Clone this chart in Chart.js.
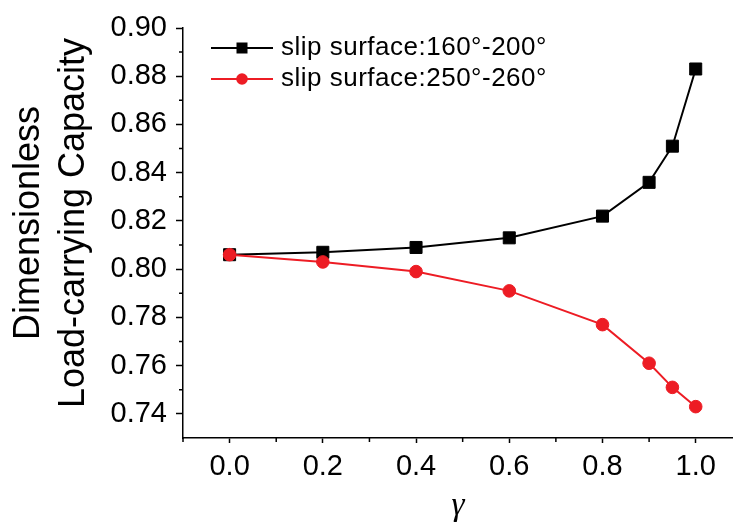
<!DOCTYPE html>
<html lang="en">
<head>
<meta charset="UTF-8" />
<title>Load-carrying Capacity</title>
<script src="https://cdn.jsdelivr.net/npm/chart.js@4.4.1/dist/chart.umd.min.js"></script>
<style>
  body { margin: 0; background: #fff; }
  #wrap { width: 733px; height: 522px; position: relative; }
</style>
</head>
<body>
<div id="wrap"><canvas id="myChart"></canvas></div>
<script>
// gamma on the x axis
const gammaValues = [0, 0.2, 0.4, 0.6, 0.8, 0.9, 0.95, 1.0];
// dimensionless load-carrying capacity
const capacity160to200 = [0.806, 0.807, 0.809, 0.813, 0.822, 0.836, 0.851, 0.883];
const capacity250to260 = [0.806, 0.803, 0.799, 0.791, 0.777, 0.761, 0.751, 0.743];
const seriesLabels = ['slip surface:160°-200°', 'slip surface:250°-260°'];

const xTickValues = [0, 0.2, 0.4, 0.6, 0.8, 1.0];
const xMinorValues = [-0.1, 0.1, 0.3, 0.5, 0.7, 0.9];
const yTickValues = [0.74, 0.76, 0.78, 0.80, 0.82, 0.84, 0.86, 0.88, 0.90];
const yMinorValues = [0.75, 0.77, 0.79, 0.81, 0.83, 0.85, 0.87, 0.89];

const RED = '#ED1C24';
const SANS = '"Liberation Sans", Arial, sans-serif';

const toPoints = (ys) => gammaValues.map((g, i) => ({ x: g, y: ys[i] }));

// small outside ticks between the labelled ones
const minorTicks = {
  id: 'minorTicks',
  afterDraw(chart) {
    const { ctx, scales: { x, y } } = chart;
    ctx.save();
    ctx.strokeStyle = '#000';
    ctx.lineWidth = 1.5;
    ctx.beginPath();
    xMinorValues.forEach((v) => {
      const px = x.getPixelForValue(v);
      ctx.moveTo(px, x.top);
      ctx.lineTo(px, x.top + 4);
    });
    yMinorValues.forEach((v) => {
      const py = y.getPixelForValue(v);
      ctx.moveTo(y.right, py);
      ctx.lineTo(y.right - 4, py);
    });
    ctx.stroke();
    ctx.restore();
  }
};

// legend with line + marker, like the origin plot
const lineLegend = {
  id: 'lineLegend',
  afterDraw(chart) {
    const { ctx, chartArea } = chart;
    chart.data.datasets.forEach((ds, i) => {
      const x0 = chartArea.left + 28;
      const y0 = chartArea.top + 20 + i * 31;
      ctx.save();
      ctx.strokeStyle = ds.borderColor;
      ctx.lineWidth = ds.borderWidth;
      ctx.beginPath();
      ctx.moveTo(x0, y0);
      ctx.lineTo(x0 + 62, y0);
      ctx.stroke();
      ctx.fillStyle = ds.pointBackgroundColor;
      if (ds.pointStyle === 'rect') {
        ctx.fillRect(x0 + 31 - 5.5, y0 - 5.5, 11, 11);
      } else {
        ctx.beginPath();
        ctx.arc(x0 + 31, y0, 5.8, 0, Math.PI * 2);
        ctx.fill();
      }
      ctx.fillStyle = '#000';
      ctx.font = '26px ' + SANS;
      ctx.letterSpacing = '0.5px';
      ctx.textBaseline = 'middle';
      ctx.textAlign = 'left';
      ctx.fillText(ds.label, x0 + 70, y0);
      ctx.restore();
    });
  }
};

const ctx = document.getElementById('myChart').getContext('2d');

const chart = new Chart(ctx, {
  type: 'line',
  data: {
    datasets: [
      {
        label: seriesLabels[0],
        data: toPoints(capacity160to200),
        borderColor: '#000',
        backgroundColor: '#000',
        pointBackgroundColor: '#000',
        pointBorderColor: '#000',
        borderWidth: 2,
        pointStyle: 'rect',
        pointRadius: 8.5,
        pointBorderWidth: 1,
        order: 1
      },
      {
        label: seriesLabels[1],
        data: toPoints(capacity250to260),
        borderColor: RED,
        backgroundColor: RED,
        pointBackgroundColor: RED,
        pointBorderColor: RED,
        borderWidth: 2,
        pointStyle: 'circle',
        pointRadius: 6.3,
        pointBorderWidth: 1,
        order: 0
      }
    ]
  },
  options: {
    responsive: true,
    maintainAspectRatio: false,
    animation: false,
    layout: { autoPadding: false, padding: { top: 28, right: 0, left: 0, bottom: 0 } },
    elements: { line: { tension: 0 } },
    plugins: {
      legend: { display: false },
      tooltip: { enabled: false }
    },
    scales: {
      x: {
        type: 'linear',
        min: -0.1,
        max: 1.08,
        afterFit: (s) => { s.height = 84; s.paddingLeft = 0; s.paddingRight = 0; },
        afterBuildTicks: (s) => { s.ticks = xTickValues.map((v) => ({ value: v })); },
        ticks: {
          color: '#000',
          padding: 7,
          font: { size: 29, family: SANS },
          callback: (v) => Number(v).toFixed(1)
        },
        grid: {
          drawOnChartArea: false,
          drawTicks: true,
          tickLength: 5,
          tickColor: '#000',
          tickWidth: 1.5
        },
        border: { display: true, color: '#000', width: 1.5 },
        title: {
          display: true,
          text: 'γ',
          color: '#000',
          font: { size: 33, style: 'italic', family: '"Liberation Serif", "DejaVu Serif", serif' },
          padding: { top: 0, bottom: -4 }
        }
      },
      y: {
        min: 0.73,
        max: 0.90,
        afterFit: (s) => { s.width = 183; s.paddingTop = 0; s.paddingBottom = 0; },
        afterBuildTicks: (s) => { s.ticks = yTickValues.map((v) => ({ value: v })); },
        ticks: {
          color: '#000',
          padding: 9,
          font: { size: 29, family: SANS },
          callback: (v) => Number(v).toFixed(2)
        },
        grid: {
          drawOnChartArea: false,
          drawTicks: true,
          tickLength: 7,
          tickColor: '#000',
          tickWidth: 1.5
        },
        border: { display: true, color: '#000', width: 1.5 },
        title: {
          display: true,
          // leading spaces nudge the centred title up a little, as in the original
          text: ['  Dimensionless', '  Load-carrying Capacity'],
          color: '#000',
          font: { size: 36, family: SANS, lineHeight: 1.25 },
          padding: { top: 7, bottom: 0 }
        }
      }
    }
  },
  plugins: [minorTicks, lineLegend]
});
</script>
</body>
</html>
